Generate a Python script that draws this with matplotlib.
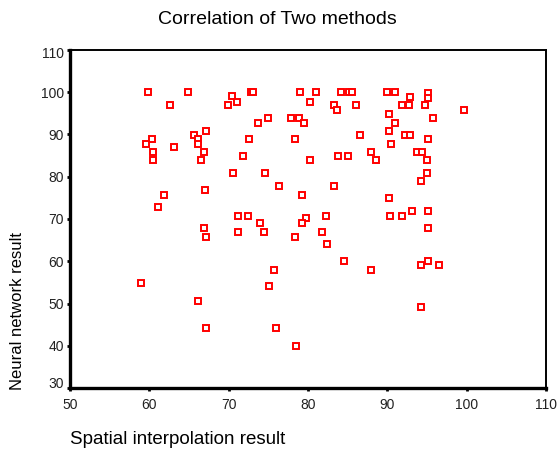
import matplotlib
matplotlib.use("Agg")
import matplotlib.pyplot as plt
import matplotlib.transforms as mtransforms

plt.rcParams['font.family'] = ['Liberation Sans', 'DejaVu Sans']

title = "Correlation of Two methods"
x_label = "Spatial interpolation result"
y_label = "Neural network result"

spatial = [59.85, 64.9, 72.85, 73.1, 79.05, 81.05, 84.2, 85.2, 85.5, 89.9,
           91.0, 95.1, 95.1, 92.9, 62.6, 70.45, 71.05, 69.95, 80.3, 83.3,
           83.6, 86.0, 91.8, 92.7, 94.7, 99.7, 90.15, 95.8, 91.0, 75.0,
           73.7, 77.8, 78.9, 79.5, 67.2, 65.65, 66.15, 66.15, 60.35, 59.6,
           63.1, 60.5, 60.5, 66.9, 66.5, 72.6, 78.3, 86.5, 90.15, 92.2,
           92.9, 95.1, 90.5, 71.85, 80.2, 83.8, 85.0, 87.9, 88.6, 93.7,
           94.4, 94.95, 70.6, 74.6, 94.95, 94.2, 61.9, 61.1, 67.05, 76.4,
           83.3, 79.2, 90.15, 71.2, 72.5, 79.8, 79.2, 82.3, 90.3, 91.8,
           93.05, 95.1, 66.9, 67.2, 71.2, 74.0, 74.5, 81.8, 78.4, 82.45,
           95.1, 84.5, 75.75, 75.1, 88.0, 94.2, 95.1, 96.5, 94.3, 59.0,
           66.15, 67.2, 76.0, 78.5]
neural = [100, 100, 100, 100, 100, 100, 100, 100, 100, 100,
          100, 99.9, 98.7, 98.8, 96.9, 99.0, 97.6, 96.9, 97.6, 96.9,
          95.7, 96.9, 96.9, 96.9, 96.9, 95.7, 94.8, 93.8, 92.7, 93.8,
          92.7, 93.8, 93.8, 92.7, 90.8, 89.8, 88.9, 87.7, 88.9, 87.7,
          87.0, 85.8, 83.9, 85.8, 83.9, 88.9, 88.9, 89.8, 90.8, 89.8,
          89.8, 88.9, 87.7, 84.9, 83.9, 84.9, 84.9, 85.8, 83.9, 85.8,
          85.8, 83.9, 80.9, 80.9, 80.9, 79.0, 75.6, 72.8, 76.8, 77.8,
          77.8, 75.6, 74.9, 70.7, 70.7, 70.2, 69.0, 70.7, 70.7, 70.7,
          71.9, 71.9, 67.9, 65.7, 66.9, 69.0, 66.9, 66.9, 65.7, 64.1,
          67.9, 60.0, 57.9, 54.1, 57.9, 59.1, 60.0, 59.1, 49.2, 54.8,
          50.7, 44.1, 44.1, 40.0]

x_ticks = [50, 60, 70, 80, 90, 100, 110]
y_ticks = [30, 40, 50, 60, 70, 80, 90, 100, 110]

W, H = 558, 450
fig = plt.figure(figsize=(W / 100, H / 100), dpi=100)
left, right, top, bottom = 70, 546, 50, 388
ax = fig.add_axes([left / W, 1 - bottom / H, (right - left) / W, (bottom - top) / H])

ax.plot(spatial, neural, linestyle='none', marker='s', markersize=4.7,
        markerfacecolor='white', markeredgecolor='#ff0000', markeredgewidth=1.4)

ax.set_xlim(50, 110)
ax.set_ylim(30, 110)
ax.set_xticks(x_ticks)
ax.set_yticks(y_ticks)
ax.set_xticklabels([str(t) for t in x_ticks])
ax.set_yticklabels([str(t) for t in y_ticks])

for s in ['left', 'bottom']:
    ax.spines[s].set_linewidth(2.4)
for s in ['top', 'right']:
    ax.spines[s].set_linewidth(1.4)
for s in ax.spines.values():
    s.set_color('black')

ax.tick_params(axis='both', direction='out', length=2.5, width=2, color='black',
               labelsize=10, labelcolor='#222222')
ax.tick_params(axis='y', pad=2)
ax.tick_params(axis='x', pad=5)

# nudge edge tick labels inward like the original
ylabels = ax.get_yticklabels()
ylabels[0].set_transform(ylabels[0].get_transform() +
                         mtransforms.ScaledTranslation(0, 5 / 100, fig.dpi_scale_trans))
ylabels[-1].set_transform(ylabels[-1].get_transform() +
                          mtransforms.ScaledTranslation(0, -3 / 100, fig.dpi_scale_trans))

fig.text(277 / W, 1 - 20 / H, title, ha='center', va='center', fontsize=14, color='black')
fig.text(70 / W, 1 - 440 / H, x_label, ha='left', va='center', fontsize=13.5, color='black')
fig.text(18 / W, 1 - 390 / H, y_label, ha='center', va='bottom', rotation=90,
         fontsize=12, color='black')

fig.savefig('out.png', dpi=100)
